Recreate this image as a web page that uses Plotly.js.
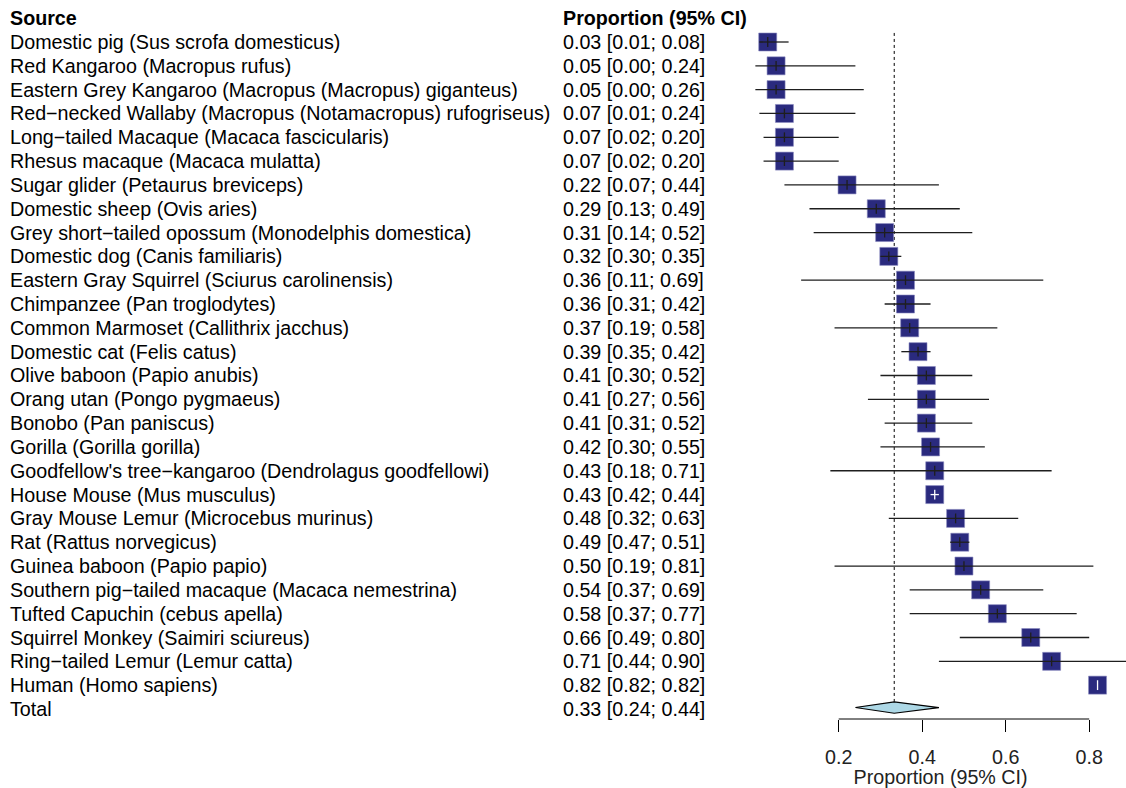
<!DOCTYPE html>
<html>
<head>
<meta charset="utf-8">
<script src="https://cdn.plot.ly/plotly-3.0.1.min.js"></script>
<style>html,body{margin:0;padding:0;background:#fff;}#chart{width:1126px;height:788px;}</style>
</head>
<body>
<div id="chart"></div>
<script>
const sources = [
  "Domestic pig (Sus scrofa domesticus)",
  "Red Kangaroo (Macropus rufus)",
  "Eastern Grey Kangaroo (Macropus (Macropus) giganteus)",
  "Red\u2212necked Wallaby (Macropus (Notamacropus) rufogriseus)",
  "Long\u2212tailed Macaque (Macaca fascicularis)",
  "Rhesus macaque (Macaca mulatta)",
  "Sugar glider (Petaurus breviceps)",
  "Domestic sheep (Ovis aries)",
  "Grey short\u2212tailed opossum (Monodelphis domestica)",
  "Domestic dog (Canis familiaris)",
  "Eastern Gray Squirrel (Sciurus carolinensis)",
  "Chimpanzee (Pan troglodytes)",
  "Common Marmoset (Callithrix jacchus)",
  "Domestic cat (Felis catus)",
  "Olive baboon (Papio anubis)",
  "Orang utan (Pongo pygmaeus)",
  "Bonobo (Pan paniscus)",
  "Gorilla (Gorilla gorilla)",
  "Goodfellow's tree\u2212kangaroo (Dendrolagus goodfellowi)",
  "House Mouse (Mus musculus)",
  "Gray Mouse Lemur (Microcebus murinus)",
  "Rat (Rattus norvegicus)",
  "Guinea baboon (Papio papio)",
  "Southern pig\u2212tailed macaque (Macaca nemestrina)",
  "Tufted Capuchin (cebus apella)",
  "Squirrel Monkey (Saimiri sciureus)",
  "Ring\u2212tailed Lemur (Lemur catta)",
  "Human (Homo sapiens)"
];
const estimate = [0.03,0.05,0.05,0.07,0.07,0.07,0.22,0.29,0.31,0.32,0.36,0.36,0.37,0.39,0.41,0.41,0.41,0.42,0.43,0.43,0.48,0.49,0.50,0.54,0.58,0.66,0.71,0.82];
const lower    = [0.01,0.00,0.00,0.01,0.02,0.02,0.07,0.13,0.14,0.30,0.11,0.31,0.19,0.35,0.30,0.27,0.31,0.30,0.18,0.42,0.32,0.467,0.19,0.37,0.37,0.49,0.44,0.82];
const upper    = [0.08,0.24,0.26,0.24,0.20,0.20,0.44,0.49,0.52,0.35,0.69,0.42,0.58,0.42,0.52,0.56,0.52,0.55,0.71,0.44,0.63,0.513,0.81,0.69,0.77,0.80,0.90,0.82];
const totalLabel = "Total";
const totalEstimate = 0.333;
const totalLower = 0.24;
const totalUpper = 0.44;
const tickValues = [0.2, 0.4, 0.6, 0.8];
const tickLabels = ["0.2", "0.4", "0.6", "0.8"];
const headerSource = "Source";
const headerCI = "Proportion (95% CI)";
const axisTitle = "Proportion (95% CI)";

const FONT = "Liberation Sans, Arial, Helvetica, sans-serif";
const FS = 19.7;
const rows = sources.map((_, i) => i);
const fmt = v => v.toFixed(2);
const ciText = (e, l, u) => fmt(e) + " [" + fmt(l) + "; " + fmt(u) + "]";

// CI lines: drawn white if interval fits inside the box
const narrow = i => (upper[i] - lower[i]) < 0.03;
function segs(filter) {
  const x = [], y = [];
  rows.forEach(i => { if (filter(i)) { x.push(lower[i], upper[i], null); y.push(i, i, null); } });
  return {x, y};
}
const blackSeg = segs(i => !narrow(i));
const whiteSeg = segs(i => narrow(i));
const LC = "#1e1e1e";

const traces = [
  { type: "scatter", mode: "markers", x: estimate, y: rows, hoverinfo: "skip",
    marker: { symbol: "square", size: 18, color: "#2A2A7E", line: { width: 0.6, color: "#8a8ac0" } } },
  { type: "scatter", mode: "lines", x: blackSeg.x, y: blackSeg.y, hoverinfo: "skip",
    line: { color: LC, width: 1.3 } },
  { type: "scatter", mode: "lines", x: whiteSeg.x, y: whiteSeg.y, hoverinfo: "skip",
    line: { color: "#ffffff", width: 1.3 } },
  { type: "scatter", mode: "markers", x: estimate.filter((_, i) => !narrow(i)), y: rows.filter(i => !narrow(i)), hoverinfo: "skip",
    marker: { symbol: "line-ns-open", size: 7, color: LC, line: { color: LC, width: 1.3 } } },
  { type: "scatter", mode: "markers", x: estimate.filter((_, i) => narrow(i)), y: rows.filter(i => narrow(i)), hoverinfo: "skip",
    marker: { symbol: "line-ns-open", size: 7, color: "#ffffff", line: { color: "#ffffff", width: 1.3 } } },
  // diamond for Total
  { type: "scatter", mode: "lines", fill: "toself", fillcolor: "#ADD8E6", hoverinfo: "skip",
    x: [totalLower, totalEstimate, totalUpper, totalEstimate, totalLower],
    y: [sources.length - 0.06, sources.length - 0.30, sources.length - 0.06, sources.length + 0.18, sources.length - 0.06],
    line: { color: "#000000", width: 1.2 } }
];

const annotations = [];
function addText(txt, xpx, row, bold) {
  annotations.push({ text: bold ? "<b>" + txt + "</b>" : txt, xref: "paper", yref: "y",
    x: xpx / 1126, y: row, xanchor: "left", yanchor: "middle", showarrow: false,
    font: { family: FONT, size: FS, color: "#000" } });
}
addText(headerSource, 8, -1, true);
addText(headerCI, 561, -1, true);
rows.forEach(i => { addText(sources[i], 8, i, false); addText(ciText(estimate[i], lower[i], upper[i]), 561, i, false); });
addText(totalLabel, 8, sources.length, false);
addText(ciText(totalEstimate, totalLower, totalUpper), 561, sources.length, false);

const layout = {
  width: 1126, height: 788,
  margin: { l: 0, r: 0, t: 0, b: 69 },
  paper_bgcolor: "#fff", plot_bgcolor: "#fff",
  showlegend: false,
  font: { family: FONT, size: FS, color: "#000" },
  xaxis: {
    domain: [755.2 / 1126, 1], range: [0, (1126 - 755.2) / 417.5],
    showgrid: false, zeroline: false, showline: false,
    ticks: "outside", ticklen: 12, tickwidth: 1, tickcolor: "#000",
    ticklabelstandoff: 8,
    tickvals: tickValues, ticktext: tickLabels,
    tickfont: { family: FONT, size: FS, color: "#222" },
    title: { text: axisTitle, font: { family: FONT, size: FS, color: "#222" }, standoff: 0 }
  },
  yaxis: {
    range: [(719 - 42) / 23.82, -42 / 23.82],
    showgrid: false, zeroline: false, showline: false, showticklabels: false, ticks: ""
  },
  shapes: [
    { type: "line", xref: "x", yref: "y", x0: totalEstimate, x1: totalEstimate, y0: -0.38, y1: sources.length - 0.30,
      line: { color: "#000", width: 1, dash: "dot" }, layer: "below" },
    { type: "line", xref: "x", yref: "paper", x0: tickValues[0], x1: tickValues[tickValues.length - 1], y0: 0, y1: 0,
      line: { color: "#000", width: 1 } }
  ],
  annotations: annotations
};

Plotly.newPlot("chart", traces, layout, { displayModeBar: false, staticPlot: true });
</script>
</body>
</html>
